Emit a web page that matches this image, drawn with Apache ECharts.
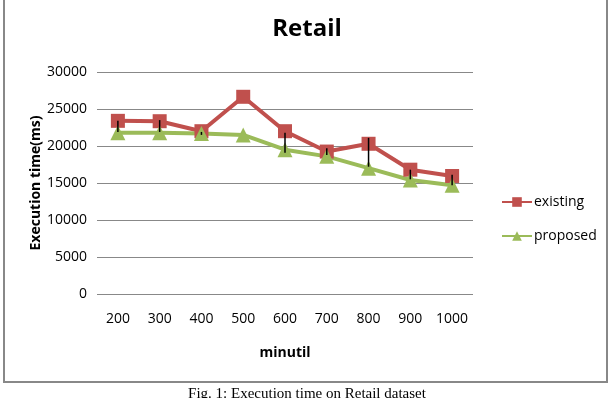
<!DOCTYPE html>
<html>
<head>
<meta charset="utf-8">
<script src="https://cdn.jsdelivr.net/npm/echarts@6/dist/echarts.min.js"></script>
<style>
  html, body { margin: 0; padding: 0; background: #fff; }
  #chart { width: 614px; height: 398px; }
</style>
</head>
<body>
<div id="chart"></div>
<script>
// data
var minutil = ['200', '300', '400', '500', '600', '700', '800', '900', '1000'];
var existing = [23400, 23350, 22000, 26650, 22000, 19250, 20300, 16800, 15950];
var proposed = [21800, 21800, 21700, 21500, 19500, 18600, 17000, 15400, 14700];
// black vertical bars (top / bottom), none at 500
var barTop = [23400, 23500, 21900, null, 21800, 19700, 21100, 16800, 16100];
var barBottom = [21900, 21900, 21500, null, 19100, 18800, 17200, 15500, 14700];
var yTicks = [0, 5000, 10000, 15000, 20000, 25000, 30000];

var chart = echarts.init(document.getElementById('chart'));

var bars = [];
minutil.forEach(function (c, i) {
    if (barTop[i] != null) bars.push([i, barTop[i], barBottom[i]]);
});

var option = {
    animation: false,
    title: {
        text: 'Retail',
        left: 'center',
        top: 12,
        textStyle: { fontFamily: 'Open Sans', fontWeight: 'bold', fontSize: 24, color: '#000' }
    },
    legend: {
        orient: 'vertical',
        left: 496,
        top: 190,
        itemWidth: 30,
        itemHeight: 12,
        itemGap: 20,
        data: ['existing', 'proposed'],
        textStyle: { fontFamily: 'Open Sans', fontSize: 14, color: '#000', padding: [0, 0, 0, -3] }
    },
    grid: { left: 97, right: 141, top: 72, bottom: 104 },
    xAxis: {
        type: 'category',
        data: minutil,
        name: 'minutil',
        nameLocation: 'middle',
        nameGap: 52,
        nameTextStyle: { fontFamily: 'Open Sans', fontWeight: 'bold', fontSize: 14, color: '#000' },
        axisLine: { show: false },
        axisTick: { show: false },
        axisLabel: { fontFamily: 'Open Sans', fontSize: 14, color: '#000', margin: 18 }
    },
    yAxis: {
        type: 'value',
        min: yTicks[0],
        max: yTicks[yTicks.length - 1],
        interval: 5000,
        name: 'Execution time(ms)',
        nameLocation: 'middle',
        nameGap: 54,
        nameMoveOverlap: false,
        nameTextStyle: { fontFamily: 'Open Sans', fontWeight: 'bold', fontSize: 14, color: '#000' },
        axisLine: { show: false },
        axisTick: { show: false },
        axisLabel: {
            fontFamily: 'Open Sans', fontSize: 14, color: '#000', margin: 10,
            formatter: function (v) { return String(v); }
        },
        splitLine: { lineStyle: { color: '#888', width: 1 } }
    },
    series: [
        {
            name: 'existing',
            type: 'line',
            data: existing,
            symbol: 'rect',
            symbolSize: 14,
            color: '#C0504D',
            lineStyle: { width: 4 }
        },
        {
            name: 'proposed',
            type: 'line',
            data: proposed,
            symbol: 'triangle',
            symbolSize: 15,
            color: '#9BBB59',
            lineStyle: { width: 4 }
        },
        {
            name: 'bars',
            type: 'custom',
            data: bars,
            z: 5,
            renderItem: function (params, api) {
                var top = api.coord([api.value(0), api.value(1)]);
                var bot = api.coord([api.value(0), api.value(2)]);
                return {
                    type: 'line',
                    shape: { x1: top[0], y1: top[1], x2: bot[0], y2: bot[1] },
                    style: { stroke: '#000', lineWidth: 1.5 }
                };
            }
        }
    ],
    graphic: [
        {
            type: 'rect',
            shape: { x: 4, y: -5, width: 603, height: 387 },
            style: { fill: 'none', stroke: '#888', lineWidth: 2 }
        },
        {
            type: 'text',
            left: 'center',
            top: 387,
            style: { text: 'Fig. 1: Execution time on Retail dataset', fontFamily: 'Liberation Serif', fontSize: 15, fill: '#000' }
        }
    ]
};

chart.setOption(option);
</script>
</body>
</html>
